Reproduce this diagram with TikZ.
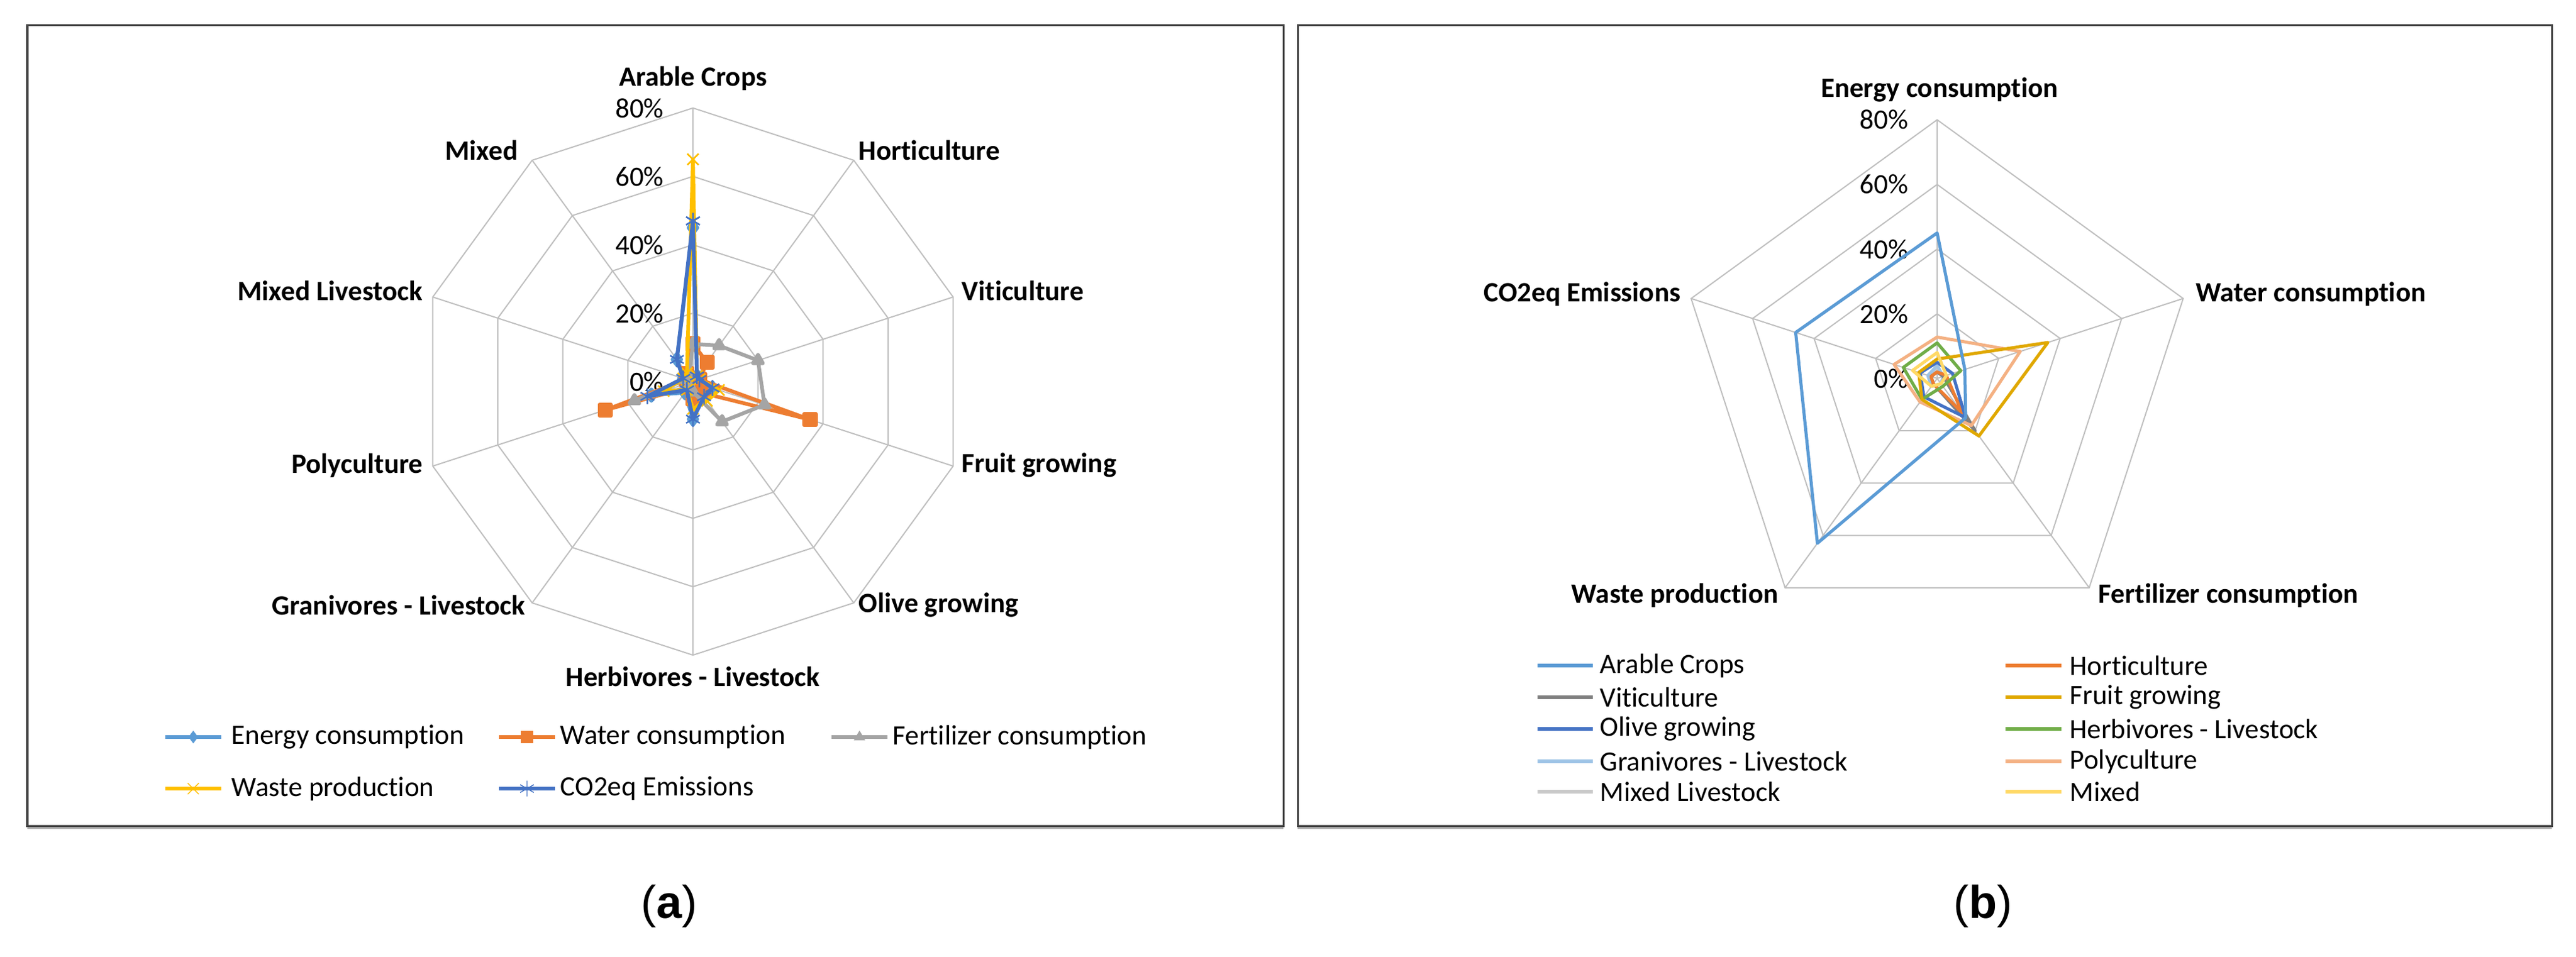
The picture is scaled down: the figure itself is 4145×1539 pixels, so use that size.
\documentclass[tikz,border=0pt]{standalone}
\usepackage{fontspec}
\setmainfont{Carlito}[RawFeature={-liga}]
\newfontfamily\arialf{Liberation Sans}
\usetikzlibrary{plotmarks}
\definecolor{cEn}{HTML}{5B9BD5}
\definecolor{cWa}{HTML}{ED7D31}
\definecolor{cFe}{HTML}{A5A5A5}
\definecolor{cWp}{HTML}{FFC000}
\definecolor{cCo}{HTML}{4472C4}
\definecolor{cVi}{HTML}{7F7F7F}
\definecolor{cFr}{HTML}{E0A800}
\definecolor{cHe}{HTML}{70AD47}
\definecolor{cGr}{HTML}{9DC3E6}
\definecolor{cPo}{HTML}{F4B183}
\definecolor{cMl}{HTML}{C9C9C9}
\definecolor{cMx}{HTML}{FFD966}
\definecolor{gridc}{HTML}{BFBFBF}
\tikzset{
  every node/.style={font=\fontsize{12.8}{15}\selectfont, inner sep=0pt},
  grid/.style={draw=gridc, line width=0.2mm},
  box/.style={draw=black!75, line width=0.3mm},
  shadow/.style={fill=black!30, draw=none},
  axl/.style={font=\fontsize{12.8}{15}\selectfont\bfseries},
  serA/.style={line width=0.6mm, line join=round},
  serB/.style={line width=0.5mm, line join=round},
  mk/.style={mark size=2.6pt, mark options={solid}},
  mkx/.style={mark size=3.6pt, mark options={solid, line width=0.25mm}},
}
\begin{document}
\begin{tikzpicture}[x=0.01cm, y=-0.01cm]
\useasboundingbox (0,0) rectangle (4145,1539);
\fill[white] (0,0) rectangle (4145,1539);
% boxes
\fill[shadow] (44,1327) rectangle (2065,1334);
\fill[shadow] (2088,1327) rectangle (4106,1334);
\draw[box] (44,40) rectangle (2065,1329);
\draw[box] (2088,40) rectangle (4106,1329);

% ================= panel (a)
\begin{scope}[shift={(1115,614)}, x=0.055cm, y=0.055cm]
  \foreach \r in {20,40,60,80}{
    \draw[grid] (90:\r) \foreach \k in {1,...,9}{ -- ({90-36*\k}:\r) } -- cycle;
  }
  \foreach \k in {0,...,9}{ \draw[grid] (0,0) -- ({90-36*\k}:80); }
  \foreach \r in {0,20,40,60,80}{ \node[anchor=east] at (-8.4,\r) {\r\%}; }
  % Energy
  \draw[serA, cEn] plot[mark=diamond*, mk, mark options={fill=cEn}] coordinates {(90:45) (54:2) (18:2) (-18:6) (-54:5) (-90:11) (-126:4) (-162:12.8) (-198:3) (-234:8) (90:45)};
  % Water
  \draw[serA, cWa] plot[mark=square*, mk, mark options={fill=cWa}] coordinates {(90:11) (54:7) (18:2) (-18:36) (-54:4) (-90:5) (-126:2) (-162:27) (-198:2) (-234:3) (90:11)};
  % Fertilizer
  \draw[serA, cFe] plot[mark=triangle*, mk, mark options={fill=cFe}] coordinates {(90:11) (54:13) (18:20) (-18:22) (-54:14.5) (-90:3) (-126:2) (-162:18) (-198:2) (-234:2) (90:11)};
  % Waste
  \draw[serA, cWp] plot[mark=x, mkx] coordinates {(90:65) (54:2) (18:2) (-18:8) (-54:7) (-90:8) (-126:3) (-162:9) (-198:3) (-234:3) (90:65)};
  % CO2
  \draw[serA, cCo] plot[mark=asterisk, mkx] coordinates {(90:47) (54:2) (18:2) (-18:6) (-54:5.5) (-90:11) (-126:3) (-162:14) (-198:3) (-234:8) (90:47)};
\end{scope}
\node[axl] (la1) at (1115,126) {Arable Crops};
\node[axl, anchor=west] (la2) at (1381,242) {Horticulture};
\node[axl, anchor=west] (la3) at (1547,468) {Viticulture};
\node[axl, anchor=west] (la4) at (1547,749) {Fruit growing};
\node[axl, anchor=west] (la5) at (1381,974) {Olive growing};
\node[axl] (la6) at (1115,1089) {Herbivores - Livestock};
\node[axl, anchor=east] (la7) at (846,974) {Granivores - Livestock};
\node[axl, anchor=east] (la8) at (681,749) {Polyculture};
\node[axl, anchor=east] (la9) at (681,468) {Mixed Livestock};
\node[axl, anchor=east] (la10) at (834,242) {Mixed};
% legend (a)
\draw[serA, cEn] (266,1186) -- (356,1186);
\path plot[mark=diamond*, mk, mark options={fill=cEn, draw=cEn}, only marks] coordinates {(311,1186)};
\node[anchor=west] (lg1) at (372,1186) {Energy consumption};
\draw[serA, cWa] (803,1186) -- (893,1186);
\path plot[mark=square*, mk, mark options={fill=cWa, draw=cWa}, only marks] coordinates {(848,1186)};
\node[anchor=west] (lg2) at (901,1186) {Water consumption};
\draw[serA, cFe] (1338,1186) -- (1428,1186);
\path plot[mark=triangle*, mk, mark options={fill=cFe, draw=cFe}, only marks] coordinates {(1383,1186)};
\node[anchor=west] (lg3) at (1436,1186) {Fertilizer consumption};
\draw[serA, cWp] (266,1269) -- (356,1269);
\path plot[mark=x, mkx, mark options={draw=cWp}, only marks] coordinates {(311,1269)};
\node[anchor=west] (lg4) at (372,1269) {Waste production};
\draw[serA, cCo] (803,1269) -- (893,1269);
\path plot[mark=asterisk, mkx, mark options={draw=cCo}, only marks] coordinates {(848,1269)};
\node[anchor=west] (lg5) at (901,1269) {CO2eq Emissions};

% ================= panel (b)
\begin{scope}[shift={(3117,609)}, x=0.052cm, y=0.052cm]
  \foreach \r in {20,40,60,80}{
    \draw[grid] (90:\r) \foreach \k in {1,...,4}{ -- ({90-72*\k}:\r) } -- cycle;
  }
  \foreach \k in {0,...,4}{ \draw[grid] (0,0) -- ({90-72*\k}:80); }
  \foreach \r in {0,20,40,60,80}{ \node[anchor=east] at (-8.8,\r) {\r\%}; }
  \draw[serB, cMl] (90:3) -- (18:2) -- (-54:2) -- (-126:3) -- (162:3) -- cycle;
  \draw[serB, cGr] (90:4) -- (18:2) -- (-54:2) -- (-126:3) -- (162:3) -- cycle;
  \draw[serB, cVi] (90:2) -- (18:2) -- (-54:20) -- (-126:2) -- (162:2) -- cycle;
  \draw[serB, cWa] (90:2) -- (18:3) -- (-54:13) -- (-126:2) -- (162:2) -- cycle;
  \draw[serB, cCo] (90:5) -- (18:5) -- (-54:15) -- (-126:7) -- (162:5.5) -- cycle;
  \draw[serB, cHe] (90:11) -- (18:7.7) -- (-54:3) -- (-126:8) -- (162:11) -- cycle;
  \draw[serB, cPo] (90:12.8) -- (18:27) -- (-54:18) -- (-126:9) -- (162:14) -- cycle;
  \draw[serB, cFr] (90:6) -- (18:36) -- (-54:22) -- (-126:8) -- (162:6) -- cycle;
  \draw[serB, cMx] (90:8) -- (18:3) -- (-54:2) -- (-126:3) -- (162:8) -- cycle;
  \draw[serB, cEn] (90:45) -- (18:9) -- (-54:15) -- (-126:63) -- (162:46) -- cycle;
\end{scope}
\node[axl] (lb1) at (3121,145) {Energy consumption};
\node[axl, anchor=west] (lb2) at (3533,473) {Water consumption};
\node[axl, anchor=west] (lb3) at (3376,958) {Fertilizer consumption};
\node[axl, anchor=east] (lb4) at (2862,958) {Waste production};
\node[axl, anchor=east] (lb5) at (2705,473) {CO2eq Emissions};
% legend (b)
\foreach \c/\t/\y in {cEn/Arable Crops/1071, cVi/Viticulture/1122, cCo/Olive growing/1173, cGr/Granivores - Livestock/1225, cMl/Mixed Livestock/1274}{
  \draw[serA, \c] (2474,\y) -- (2563,\y);
  \node[anchor=west] at (2574,\y) {\t};
}
\foreach \c/\t/\y in {cWa/Horticulture/1071, cFr/Fruit growing/1122, cHe/Herbivores - Livestock/1173, cPo/Polyculture/1225, cMx/Mixed/1274}{
  \draw[serA, \c] (3227,\y) -- (3317,\y);
  \node[anchor=west] at (3330,\y) {\t};
}
% captions
\node[font=\arialf\fontsize{21}{25}\selectfont] (ca) at (1077,1458) {(\textbf{a})};
\node[font=\arialf\fontsize{21}{25}\selectfont] (cb) at (3191,1458) {(\textbf{b})};
\end{tikzpicture}
\end{document}
